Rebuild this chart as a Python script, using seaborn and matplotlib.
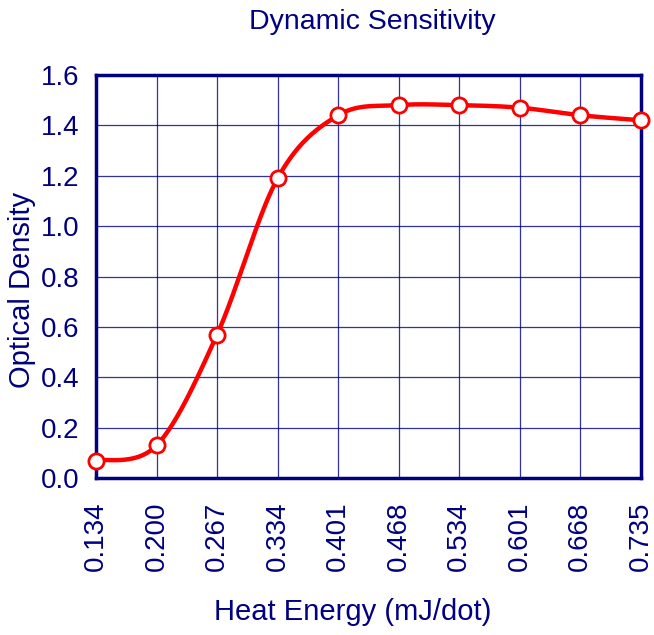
import numpy as np
import pandas as pd
import matplotlib
matplotlib.use("Agg")
import matplotlib.pyplot as plt
import seaborn as sns

energy_labels = ["0.134", "0.200", "0.267", "0.334", "0.401", "0.468", "0.534", "0.601", "0.668", "0.735"]
optical_density = [0.07, 0.13, 0.57, 1.19, 1.44, 1.48, 1.48, 1.47, 1.44, 1.42]
y_ticks = [0.0, 0.2, 0.4, 0.6, 0.8, 1.0, 1.2, 1.4, 1.6]

NAVY = "#000080"
sns.set_theme(style="white")
plt.rcParams["font.family"] = ["Liberation Sans", "DejaVu Sans"]

fig = plt.figure(figsize=(6.54, 6.35), dpi=100)
ax = fig.add_axes([0.1468, 0.247, 0.8332, 0.635])

# Excel-style smoothed bezier through the points
xs = np.arange(len(optical_density), dtype=float)
ys = np.array(optical_density, dtype=float)
P = np.column_stack([xs, ys])
curve = []
n = len(P)
t = np.linspace(0, 1, 40)
for i in range(n - 1):
    p0 = P[i]
    p3 = P[i + 1]
    pm = P[i - 1] if i > 0 else P[i]
    pp = P[i + 2] if i + 2 < n else P[i + 1]
    c1 = p0 + (p3 - pm) / 6.0
    c2 = p3 - (pp - p0) / 6.0
    seg = ((1 - t) ** 3)[:, None] * p0 + (3 * (1 - t) ** 2 * t)[:, None] * c1 \
        + (3 * (1 - t) * t ** 2)[:, None] * c2 + (t ** 3)[:, None] * p3
    curve.append(seg if i == 0 else seg[1:])
curve = np.vstack(curve)
curve_df = pd.DataFrame({"x": curve[:, 0], "y": curve[:, 1]})
pts_df = pd.DataFrame({"x": xs, "y": ys})

sns.lineplot(data=curve_df, x="x", y="y", sort=False, estimator=None, color="#ff0000",
             linewidth=3.2, ax=ax, zorder=3, clip_on=False)
sns.scatterplot(data=pts_df, x="x", y="y", marker="o", s=120, facecolor="white",
                edgecolor="#ff0000", linewidth=2.0, ax=ax, zorder=4, clip_on=False)

ax.set_xlim(0, len(energy_labels) - 1)
ax.set_ylim(0, 1.6)
ax.set_xticks(xs)
ax.set_xticklabels(energy_labels, rotation=90, fontsize=20, color=NAVY)
ax.set_yticks(y_ticks)
ax.set_yticklabels([f"{v:.1f}" for v in y_ticks], fontsize=20, color=NAVY)
ax.grid(True, color=NAVY, linewidth=0.9, alpha=0.8)
ax.set_axisbelow(True)
for sp in ax.spines.values():
    sp.set_color(NAVY)
    sp.set_linewidth(2.5)
ax.tick_params(axis="x", length=0, pad=17)
ax.tick_params(axis="y", length=0, pad=12)
ax.set_xlabel("")
ax.set_ylabel("")

fig.text(0.57, 0.965, "Dynamic Sensitivity", fontsize=20.5, color=NAVY, ha="center", va="center")
fig.text(0.540, 0.036, "Heat Energy (mJ/dot)", fontsize=21, color=NAVY, ha="center", va="center")
fig.text(0.034, 0.543, "Optical Density", fontsize=21, color=NAVY, ha="center", va="center", rotation=90)

fig.savefig("out.png", dpi=100)
